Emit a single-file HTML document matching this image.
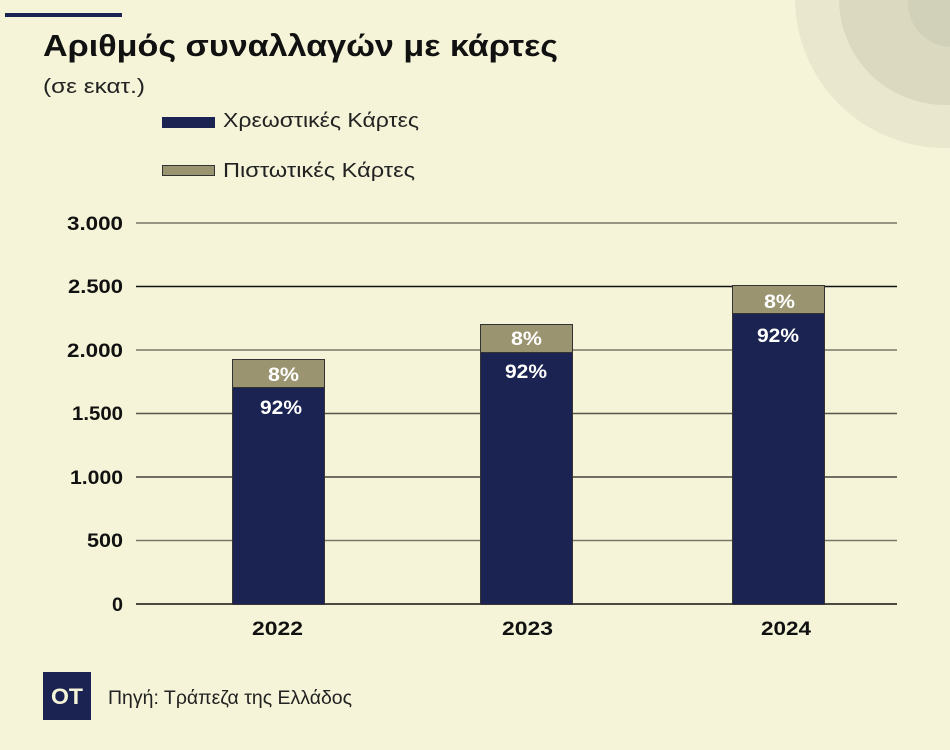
<!DOCTYPE html>
<html><head><meta charset="utf-8"><style>
html,body{margin:0;padding:0;background:#f5f4d8;}
svg{display:block;}
text{font-family:"Liberation Sans","DejaVu Sans",sans-serif;}
</style></head><body>
<svg width="950" height="750" viewBox="0 0 950 750" xmlns="http://www.w3.org/2000/svg">
<rect width="950" height="750" fill="#f5f4d8"/>
<circle cx="945" cy="-2" r="150" fill="#e9e8cf"/>
<circle cx="945" cy="-1" r="106" fill="#dbdac0"/>
<circle cx="952" cy="3" r="44" fill="#d1d0b8"/>
<rect x="5" y="13" width="117" height="4" fill="#1a2352"/>
<text x="43" y="56" font-size="31" font-weight="bold" fill="#111" textLength="515" lengthAdjust="spacingAndGlyphs">Αριθμός συναλλαγών με κάρτες</text>
<text x="43" y="93" font-size="20" fill="#222" textLength="102" lengthAdjust="spacingAndGlyphs">(σε εκατ.)</text>
<rect x="162" y="117" width="53" height="11" fill="#1a2352"/>
<text x="223" y="127" font-size="20" fill="#222" textLength="196" lengthAdjust="spacingAndGlyphs">Χρεωστικές Κάρτες</text>
<rect x="162.5" y="165.5" width="52" height="10" fill="#9b9470" stroke="#333" stroke-width="1"/>
<text x="223" y="177" font-size="20" fill="#222" textLength="192" lengthAdjust="spacingAndGlyphs">Πιστωτικές Κάρτες</text>
<g stroke-width="1.5">
<line x1="136" x2="897" y1="223" y2="223" stroke="#777766"/>
<line x1="136" x2="897" y1="286.5" y2="286.5" stroke="#111"/>
<line x1="136" x2="897" y1="350" y2="350" stroke="#777766"/>
<line x1="136" x2="897" y1="413.5" y2="413.5" stroke="#55554a"/>
<line x1="136" x2="897" y1="477" y2="477" stroke="#44443a"/>
<line x1="136" x2="897" y1="540.5" y2="540.5" stroke="#777766"/>
<line x1="136" x2="897" y1="604" y2="604" stroke="#111"/>
</g>
<g font-size="19" font-weight="bold" fill="#111" lengthAdjust="spacingAndGlyphs">
<text x="67" y="230" textLength="56" lengthAdjust="spacingAndGlyphs">3.000</text>
<text x="68" y="293" textLength="55" lengthAdjust="spacingAndGlyphs">2.500</text>
<text x="67" y="357" textLength="56" lengthAdjust="spacingAndGlyphs">2.000</text>
<text x="72" y="420" textLength="51" lengthAdjust="spacingAndGlyphs">1.500</text>
<text x="70" y="484" textLength="53" lengthAdjust="spacingAndGlyphs">1.000</text>
<text x="87" y="547" textLength="36" lengthAdjust="spacingAndGlyphs">500</text>
<text x="112" y="611" textLength="11" lengthAdjust="spacingAndGlyphs">0</text>
</g>
<g stroke="#333" stroke-width="1">
<rect x="232.5" y="359.5" width="92" height="28" fill="#9b9470"/>
<rect x="232.5" y="387.5" width="92" height="217" fill="#1a2352"/>
<rect x="480.5" y="324.5" width="92" height="28" fill="#9b9470"/>
<rect x="480.5" y="352.5" width="92" height="252" fill="#1a2352"/>
<rect x="732.5" y="285.5" width="92" height="28" fill="#9b9470"/>
<rect x="732.5" y="313.5" width="92" height="291" fill="#1a2352"/>
</g>
<g font-size="19" font-weight="bold" fill="#fff">
<text x="268" y="381" textLength="31" lengthAdjust="spacingAndGlyphs">8%</text>
<text x="260" y="414" textLength="42" lengthAdjust="spacingAndGlyphs">92%</text>
<text x="511" y="345" textLength="31" lengthAdjust="spacingAndGlyphs">8%</text>
<text x="505" y="378" textLength="42" lengthAdjust="spacingAndGlyphs">92%</text>
<text x="764" y="308" textLength="31" lengthAdjust="spacingAndGlyphs">8%</text>
<text x="757" y="342" textLength="42" lengthAdjust="spacingAndGlyphs">92%</text>
</g>
<g font-size="19" font-weight="bold" fill="#111">
<text x="252" y="635" textLength="51" lengthAdjust="spacingAndGlyphs">2022</text>
<text x="502" y="635" textLength="51" lengthAdjust="spacingAndGlyphs">2023</text>
<text x="761" y="635" textLength="50" lengthAdjust="spacingAndGlyphs">2024</text>
</g>
<rect x="43" y="672" width="48" height="48" fill="#1a2352"/>
<text x="51" y="704" font-size="22" font-weight="bold" fill="#f5f4d8" textLength="32" lengthAdjust="spacingAndGlyphs">OT</text>
<text x="108" y="704" font-size="19" fill="#222" textLength="244" lengthAdjust="spacingAndGlyphs">Πηγή: Τράπεζα της Ελλάδος</text>
</svg>
</body></html>
